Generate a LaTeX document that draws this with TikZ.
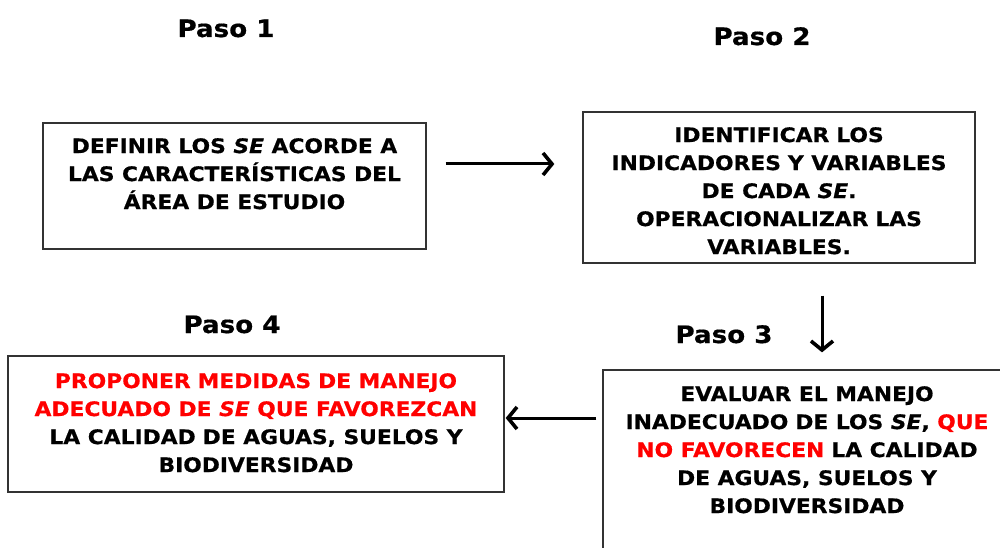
\documentclass[tikz,border=0pt]{standalone}
\usepackage{fontspec}
\setmainfont{DejaVu Sans}[BoldFeatures={FakeStretch=1.09,FakeBold=0.6},BoldItalicFeatures={FakeStretch=1.09,FakeBold=0.6}]
\usetikzlibrary{arrows.meta}
\definecolor{myred}{HTML}{FF0000}
\definecolor{edgegray}{HTML}{333333}
\newcommand{\gapsp}{\hspace{7pt}}
\begin{document}
\begin{tikzpicture}[x=1pt,y=-1pt,
  box/.style={draw=edgegray,line width=1.3pt,inner sep=0pt},
  txt/.style={font=\fontsize{20}{28}\selectfont\bfseries,align=center,anchor=north,inner sep=0pt},
  paso/.style={font=\fontsize{24}{28}\selectfont\bfseries,anchor=base,inner sep=0pt},
  arr/.style={line width=3pt,-{Straight Barb[length=9pt,width=22pt,line width=3.6pt]}}]
\useasboundingbox (0,0) rectangle (1000,548);
\clip (0,0) rectangle (1000,548);
% boxes
\node[box,minimum width=383pt,minimum height=126pt] (b1) at (234.5,186) {};
\node[box,minimum width=392pt,minimum height=151pt] (b2) at (779,187.5) {};
\node[box,minimum width=408pt,minimum height=250pt] (b3) at (807,495) {};
\node[box,minimum width=496pt,minimum height=136pt] (b4) at (256,424) {};
% texts
\node[txt] (t1) at (234.5,138) {DEFINIR LOS \textit{SE} ACORDE A\\LAS CARACTERÍSTICAS DEL\\ÁREA DE ESTUDIO};
\node[txt] (t2) at (779,127) {IDENTIFICAR\gapsp LOS\\INDICADORES\gapsp Y VARIABLES\\DE CADA \textit{SE}.\\OPERACIONALIZAR\gapsp LAS\\VARIABLES.};
\node[txt] (t3) at (807,386) {EVALUAR EL MANEJO\\INADECUADO\gapsp DE LOS \textit{SE}, \textcolor{myred}{QUE}\\\textcolor{myred}{NO FAVORECEN}\gapsp LA CALIDAD\\DE AGUAS, SUELOS Y\\BIODIVERSIDAD};
\node[txt] (t4) at (256,373) {\textcolor{myred}{PROPONER\gapsp MEDIDAS\gapsp DE MANEJO}\\\textcolor{myred}{ADECUADO DE \textit{SE} QUE FAVOREZCAN}\\LA CALIDAD\gapsp DE AGUAS, SUELOS Y\\BIODIVERSIDAD};
% step labels
\node[paso] (p1) at (226,37) {Paso 1};
\node[paso] (p2) at (762,45) {Paso 2};
\node[paso] (p3) at (724,343) {Paso 3};
\node[paso] (p4) at (232,333) {Paso 4};
% arrows
\draw[arr,shorten <=19pt,shorten >=28pt] (b1.east |- 0,164) -- (b2.west |- 0,164);
\draw[arr,shorten <=32pt,shorten >=17pt] (b2.south -| 822,0) -- (b3.north -| 822,0);
\draw[arr,shorten <=6pt,shorten >=1pt] (b3.west |- 0,418) -- (b4.east |- 0,418);
\end{tikzpicture}
\end{document}
